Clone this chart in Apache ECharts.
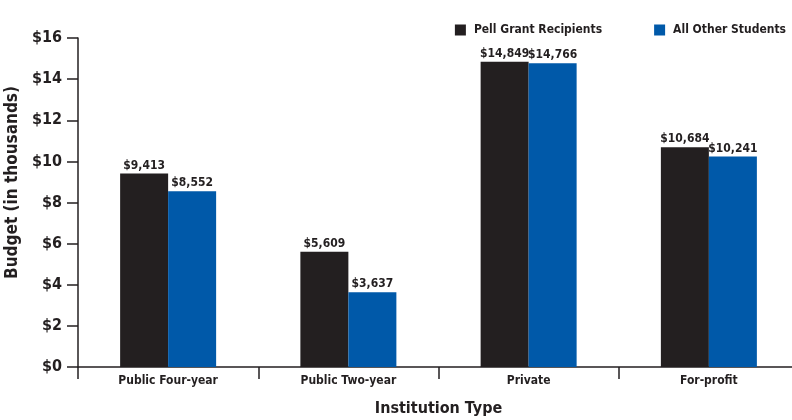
<!DOCTYPE html>
<html>
<head>
<meta charset="utf-8">
<script src="https://cdn.jsdelivr.net/npm/echarts@6/dist/echarts.min.js"></script>
<style>
  html, body { margin: 0; padding: 0; background: #ffffff; }
  #chart { width: 792px; height: 420px; }
</style>
</head>
<body>
<div id="chart"></div>
<script>
// Average student budget by institution type (in dollars)
const categories = ['Public Four-year', 'Public Two-year', 'Private', 'For-profit'];
const pellRecipients = [9413, 5609, 14849, 10684];
const otherStudents = [8552, 3637, 14766, 10241];
const yTicks = [0, 2, 4, 6, 8, 10, 12, 14, 16];

const INK = '#231f20';
const BLUE = '#0059a9';
const FONT = '"Liberation Sans Narrow", "DejaVu Sans Condensed", sans-serif';

const fmtDollars = v => '$' + v.toLocaleString('en-US');

const chart = echarts.init(document.getElementById('chart'), null, { renderer: 'canvas' });

const labelStyle = {
  show: true,
  position: 'top',
  distance: 2,
  color: INK,
  fontFamily: FONT,
  fontWeight: 'bold',
  fontSize: 12,
  formatter: p => fmtDollars(p.value * 1000)
};

chart.setOption({
  animation: false,
  textStyle: { fontFamily: FONT, color: INK },
  legend: {
    top: 19,
    right: 1,
    itemWidth: 11,
    itemHeight: 11,
    itemGap: 52,
    icon: 'rect',
    textStyle: { color: INK, fontFamily: FONT, fontWeight: 'bold', fontSize: 12, padding: [0, 0, 0, 3] },
    data: ['Pell Grant Recipients', 'All Other Students']
  },
  grid: { left: 78, top: 38, width: 721, height: 329, outerBoundsMode: 'none', containLabel: false },
  xAxis: {
    type: 'category',
    data: categories,
    name: 'Institution Type',
    nameLocation: 'middle',
    nameGap: 34,
    nameTextStyle: { color: INK, fontFamily: FONT, fontWeight: 'bold', fontSize: 16 },
    axisLine: { lineStyle: { color: INK, width: 1.5 } },
    axisTick: { show: true, alignWithLabel: false, length: 12, inside: false, lineStyle: { color: INK, width: 1.5 } },
    axisLabel: { color: INK, fontFamily: FONT, fontWeight: 'bold', fontSize: 12, margin: 8 }
  },
  yAxis: {
    type: 'value',
    min: 0,
    max: 16,
    interval: 2,
    name: 'Budget (in thousands)',
    nameLocation: 'middle',
    nameGap: 47,
    nameTextStyle: { color: INK, fontFamily: FONT, fontWeight: 'bold', fontSize: 17, padding: [0, 0, 0, 40] },
    axisLine: { show: true, lineStyle: { color: INK, width: 1.5 } },
    axisTick: { show: true, length: 11, lineStyle: { color: INK, width: 1.5 } },
    splitLine: { show: false },
    axisLabel: {
      color: INK, fontFamily: FONT, fontWeight: 'bold', fontSize: 16, margin: 16,
      formatter: v => yTicks.includes(v) ? '$' + v : ''
    }
  },
  series: [
    {
      name: 'Pell Grant Recipients',
      type: 'bar',
      barWidth: 48,
      barGap: '0%',
      itemStyle: { color: INK },
      label: labelStyle,
      data: pellRecipients.map(v => v / 1000)
    },
    {
      name: 'All Other Students',
      type: 'bar',
      barWidth: 48,
      barGap: '0%',
      itemStyle: { color: BLUE },
      label: labelStyle,
      data: otherStudents.map(v => v / 1000)
    }
  ]
});
</script>
</body>
</html>
